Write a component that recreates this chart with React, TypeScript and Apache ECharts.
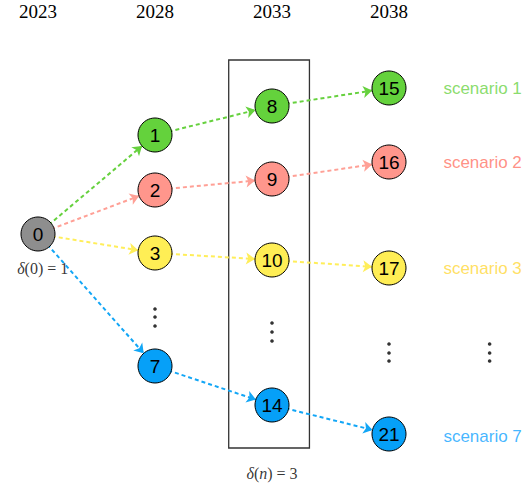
import React, { useEffect, useRef } from "react";
import * as echarts from "echarts";

// Time axis (years) and the column tick labels
const years = [2023, 2028, 2033, 2038];

// Scenario-tree nodes: id, year column, vertical row position, scenario group
const nodeIds = ["0", "1", "2", "3", "7", "8", "9", "10", "14", "15", "16", "17", "21"];
const nodeYears = [2023, 2028, 2028, 2028, 2028, 2033, 2033, 2033, 2033, 2038, 2038, 2038, 2038];
const nodeRows = [234, 135, 190, 253, 366, 106, 179, 260, 405, 88, 162, 268, 434];
const nodeGroups = ["root", "s1", "s2", "s3", "s7", "s1", "s2", "s3", "s7", "s1", "s2", "s3", "s7"];

// Transitions between nodes
const linkSources = ["0", "0", "0", "0", "1", "2", "3", "7", "8", "9", "10", "14"];
const linkTargets = ["1", "2", "3", "7", "8", "9", "10", "14", "15", "16", "17", "21"];
const linkGroups = ["s1", "s2", "s3", "s7", "s1", "s2", "s3", "s7", "s1", "s2", "s3", "s7"];

// Scenario legend labels
const scenarioNames = ["scenario 1", "scenario 2", "scenario 3", "scenario 7"];
const scenarioGroups = ["s1", "s2", "s3", "s7"];
const scenarioRows = [88, 162, 268, 436];
const scenarioYear = 2042;

// Vertical ellipsis dots
const dotYears = [2028, 2028, 2028, 2033, 2033, 2033, 2038, 2038, 2038, 2042.3, 2042.3, 2042.3];
const dotRows = [309, 317, 326, 323, 332, 341, 344, 353, 361, 344, 353, 361];

// Annotations
const deltaTexts = ["{i|δ}(0) = 1", "{i|δ}({i|n}) = 3"];
const deltaYears = [2023.2, 2033];
const deltaRows = [268, 473];

// Highlighted period box (year range and row range)
const boxYears = [2031.15, 2034.6];
const boxRows = [60, 448];

const fillColors: Record<string, string> = {
  root: "#8e8e8e",
  s1: "#64d23c",
  s2: "#ff968c",
  s3: "#ffee55",
  s7: "#06a0f8",
};
const edgeColors: Record<string, string> = {
  s1: "#66d13e",
  s2: "#ffa096",
  s3: "#ffee5a",
  s7: "#12a6f6",
};
const textColors: Record<string, string> = {
  s1: "#6bd346",
  s2: "#ff7466",
  s3: "#ffd83a",
  s7: "#14a4ff",
};

export default function App() {
  const ref = useRef<HTMLDivElement>(null);

  useEffect(() => {
    if (!ref.current) return;
    const chart = echarts.init(ref.current, undefined, { renderer: "svg" });

    const nodes = nodeIds.map((id, i) => ({
      name: id,
      value: [nodeYears[i], nodeRows[i]],
      itemStyle: { color: fillColors[nodeGroups[i]] },
    }));
    const links = linkSources.map((s, i) => ({
      source: s,
      target: linkTargets[i],
      lineStyle: { color: edgeColors[linkGroups[i]] },
    }));

    const option: any = {
      animation: false,
      grid: { left: 38, right: 138, top: 30, bottom: 0 },
      xAxis: {
        type: "value",
        position: "top",
        min: years[0],
        max: years[years.length - 1],
        axisLine: { show: false },
        axisTick: { show: false },
        splitLine: { show: false },
        axisLabel: {
          customValues: years,
          margin: 9,
          fontSize: 19,
          fontFamily: "Liberation Serif",
          color: "#000",
          formatter: (v: number) => String(v),
        },
      },
      yAxis: {
        type: "value",
        min: 30,
        max: 486,
        inverse: true,
        show: false,
      },
      series: [
        {
          type: "graph",
          coordinateSystem: "cartesian2d",
          symbol: "circle",
          symbolSize: 34,
          edgeSymbol: ["none", "arrow"],
          edgeSymbolSize: [0, 9],
          itemStyle: { borderColor: "#000", borderWidth: 1 },
          label: {
            show: true,
            position: "inside",
            formatter: "{b}",
            color: "#000",
            fontSize: 19,
            fontFamily: "Liberation Sans",
          },
          lineStyle: { width: 2, type: [4, 3], opacity: 1, curveness: 0 },
          emphasis: { disabled: true },
          data: nodes,
          links,
          z: 3,
        },
        {
          type: "scatter",
          clip: false,
          symbolSize: 0,
          silent: true,
          data: scenarioNames.map((n, i) => ({
            name: n,
            value: [scenarioYear, scenarioRows[i]],
            label: { color: textColors[scenarioGroups[i]] },
          })),
          label: {
            show: true,
            position: "inside",
            formatter: "{b}",
            fontSize: 17,
            fontFamily: "Liberation Sans",
          },
          markArea: {
            silent: true,
            itemStyle: { color: "rgba(0,0,0,0)", borderColor: "#333", borderWidth: 1.3 },
            data: [
              [
                { xAxis: boxYears[0], yAxis: boxRows[0] },
                { xAxis: boxYears[1], yAxis: boxRows[1] },
              ],
            ],
          },
        },
        {
          type: "scatter",
          clip: false,
          silent: true,
          symbol: "circle",
          symbolSize: 3.6,
          itemStyle: { color: "#000" },
          data: dotYears.map((y, i) => [y, dotRows[i]]),
        },
        {
          type: "scatter",
          clip: false,
          silent: true,
          symbolSize: 0,
          data: deltaTexts.map((t, i) => ({ name: t, value: [deltaYears[i], deltaRows[i]] })),
          label: {
            show: true,
            position: "inside",
            formatter: "{b}",
            fontSize: 16,
            fontFamily: "Liberation Serif",
            color: "#000",
            rich: {
              i: { fontStyle: "italic", fontSize: 16, fontFamily: "Liberation Serif", color: "#000" },
            },
          },
        },
      ],
    };
    chart.setOption(option);
    return () => chart.dispose();
  }, []);

  return (
    <div
      ref={ref}
      style={{ position: "fixed", left: 0, top: 0, width: 527, height: 486, background: "#fff" }}
    />
  );
}
